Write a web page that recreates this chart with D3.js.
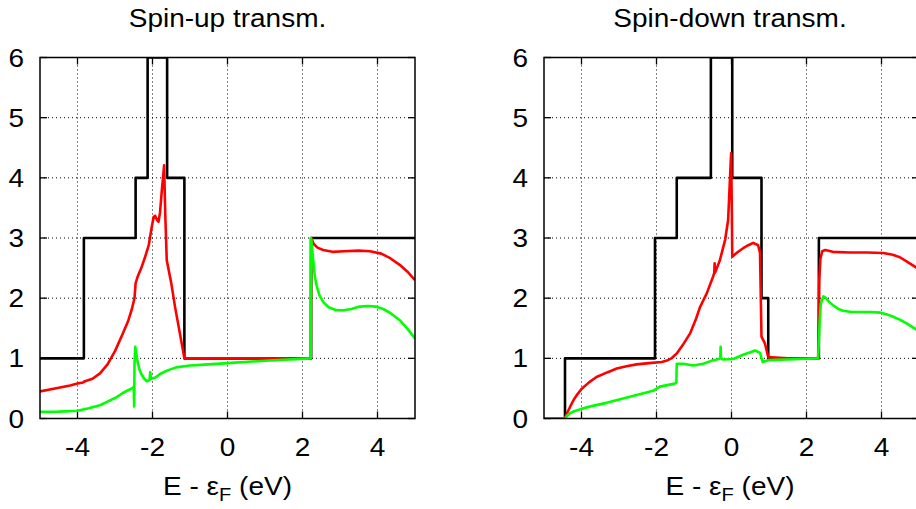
<!DOCTYPE html>
<html><head><meta charset="utf-8">
<script src="https://cdn.jsdelivr.net/npm/d3@7"></script>
<style>body{margin:0;background:#fff}svg{display:block}text{font-family:"Liberation Sans",Arial,sans-serif;fill:#000}</style>
</head><body><svg id="c" width="916" height="509"></svg>
<script>
// ---- data ----
const xTicks = [-4, -2, 0, 2, 4];
const yTicks = [0, 1, 2, 3, 4, 5, 6];
const titles = ["Spin-up transm.", "Spin-down transm."];

// spin-up: channel count (step function) [E, N]
const upSteps = [[-5,1],[-3.83,1],[-3.83,3],[-2.45,3],[-2.45,4],[-2.13,4],[-2.13,6],[-1.61,6],[-1.61,4],[-1.15,4],[-1.15,1],[2.23,1],[2.23,3],[5,3]];
const upRed = [[-5,0.45],[-4.6,0.5],[-4.2,0.55],[-4,0.58],[-3.85,0.6],[-3.8,0.62],[-3.6,0.66],[-3.4,0.75],[-3.2,0.9],[-3.0,1.12],[-2.8,1.4],[-2.65,1.62],[-2.55,1.82],[-2.48,2.0],[-2.45,2.25],[-2.4,2.35],[-2.3,2.5],[-2.2,2.68],[-2.1,2.88],[-2.03,3.15],[-1.97,3.35],[-1.93,3.37],[-1.88,3.3],[-1.84,3.27],[-1.8,3.42],[-1.75,3.8],[-1.69,4.21],[-1.66,3.4],[-1.62,2.63],[-1.5,2.25],[-1.4,1.86],[-1.28,1.45],[-1.15,1.0],[0,1.0],[2.22,1.0],[2.23,3.0],[2.3,2.9],[2.4,2.84],[2.55,2.8],[2.8,2.77],[3.1,2.78],[3.5,2.79],[3.8,2.78],[4.1,2.74],[4.35,2.66],[4.6,2.55],[4.8,2.44],[5,2.3]];
const upGreen = [[-5,0.11],[-4.5,0.115],[-4,0.13],[-3.7,0.17],[-3.4,0.22],[-3.2,0.28],[-3.0,0.34],[-2.8,0.42],[-2.65,0.47],[-2.55,0.5],[-2.5,0.52],[-2.49,0.2],[-2.48,0.9],[-2.46,1.19],[-2.4,0.95],[-2.35,0.82],[-2.3,0.74],[-2.22,0.66],[-2.15,0.62],[-2.08,0.64],[-2.06,0.77],[-2.04,0.66],[-1.92,0.68],[-1.8,0.74],[-1.6,0.8],[-1.37,0.85],[-1.0,0.88],[-0.5,0.9],[0,0.92],[1,0.96],[2.22,1.0],[2.23,3.0],[2.26,2.8],[2.29,2.6],[2.33,2.35],[2.38,2.2],[2.45,2.05],[2.56,1.93],[2.7,1.85],[2.9,1.8],[3.1,1.8],[3.3,1.82],[3.53,1.86],[3.75,1.87],[3.95,1.86],[4.15,1.82],[4.35,1.75],[4.6,1.63],[4.8,1.49],[5,1.33]];

// spin-down
const dnSteps = [[-5,0],[-4.44,0],[-4.44,1],[-2.04,1],[-2.04,3],[-1.46,3],[-1.46,4],[-0.55,4],[-0.55,6],[0.02,6],[0.02,4],[0.8,4],[0.8,2],[0.98,2],[0.98,1],[2.33,1],[2.33,3],[5,3]];
const dnRed = [[-5,0],[-4.44,0],[-4.4,0.07],[-4.3,0.2],[-4.2,0.32],[-4.1,0.41],[-4.0,0.49],[-3.8,0.6],[-3.6,0.69],[-3.3,0.77],[-3.06,0.83],[-2.8,0.87],[-2.53,0.9],[-2.2,0.92],[-1.86,0.94],[-1.7,0.97],[-1.6,1.0],[-1.46,1.08],[-1.3,1.22],[-1.1,1.42],[-0.95,1.65],[-0.84,1.85],[-0.66,2.08],[-0.49,2.36],[-0.46,2.42],[-0.45,2.58],[-0.44,2.42],[-0.31,2.63],[-0.17,2.97],[-0.09,3.3],[-0.04,4.0],[-0.01,4.41],[0.01,3.4],[0.02,2.69],[0.15,2.76],[0.31,2.83],[0.45,2.88],[0.58,2.92],[0.71,2.88],[0.76,2.75],[0.8,1.36],[0.89,1.25],[0.98,1.02],[1.5,1.0],[2.31,1.0],[2.34,2.3],[2.37,2.65],[2.42,2.78],[2.5,2.8],[2.7,2.77],[3.16,2.76],[3.61,2.76],[4.05,2.75],[4.3,2.72],[4.49,2.68],[4.7,2.6],[5,2.48]];
const dnGreen = [[-5,0],[-4.44,0],[-4.39,0.04],[-4.3,0.09],[-4.2,0.12],[-4.0,0.16],[-3.7,0.21],[-3.33,0.26],[-2.71,0.36],[-2.09,0.46],[-1.91,0.53],[-1.51,0.58],[-1.47,0.6],[-1.46,0.91],[-1.29,0.91],[-1.02,0.88],[-0.75,0.91],[-0.49,0.97],[-0.44,0.97],[-0.35,0.99],[-0.3,1.0],[-0.29,1.19],[-0.28,1.0],[-0.22,0.98],[0.05,0.99],[0.31,1.06],[0.5,1.1],[0.63,1.13],[0.76,1.09],[0.83,0.94],[0.98,0.97],[1.83,0.99],[2.31,1.0],[2.35,1.6],[2.38,1.9],[2.45,2.03],[2.52,2.0],[2.6,1.94],[2.71,1.88],[2.85,1.82],[2.98,1.79],[3.2,1.77],[3.43,1.77],[3.7,1.77],[3.96,1.76],[4.15,1.73],[4.31,1.69],[4.5,1.64],[4.67,1.58],[5,1.45]];

const panels = [
  {title: titles[0], steps: upSteps, red: upRed, green: upGreen, x0: 40, x1: 415},
  {title: titles[1], steps: dnSteps, red: dnRed, green: dnGreen, x0: 544, x1: 919}
];

const svg = d3.select("#c");
const yTop = 57.5, yBot = 418.5;
const fs = 25, sx = 1.12;

function txt(parent, x, y, s, anchor) {
  return parent.append("text")
    .attr("transform", `translate(${x},${y}) scale(${sx},1)`)
    .attr("text-anchor", anchor).attr("font-size", fs).text(s);
}

panels.forEach((p, i) => {
  const x = d3.scaleLinear().domain([-5, 5]).range([p.x0, p.x1]);
  const y = d3.scaleLinear().domain([0, 6]).range([yBot, yTop]);
  const g = svg.append("g");
  const cid = "clip" + i;
  svg.append("clipPath").attr("id", cid).append("rect")
    .attr("x", p.x0).attr("y", yTop).attr("width", p.x1 - p.x0).attr("height", yBot - yTop);

  // grid
  const grid = g.append("g").attr("stroke", "#000").attr("stroke-width", 1).attr("stroke-dasharray", "1,3");
  grid.selectAll(".gx").data(xTicks).join("line")
    .attr("x1", d => x(d)).attr("x2", d => x(d)).attr("y1", yTop).attr("y2", yBot);
  grid.selectAll(".gy").data(yTicks.filter(d => d > 0 && d < 6)).join("line")
    .attr("y1", d => y(d)).attr("y2", d => y(d)).attr("x1", p.x0).attr("x2", p.x1);

  // ticks inside, mirrored
  const tk = g.append("g").attr("stroke", "#000").attr("stroke-width", 1.3);
  xTicks.forEach(d => {
    tk.append("line").attr("x1", x(d)).attr("x2", x(d)).attr("y1", yBot).attr("y2", yBot - 7);
    tk.append("line").attr("x1", x(d)).attr("x2", x(d)).attr("y1", yTop).attr("y2", yTop + 7);
  });
  yTicks.forEach(d => {
    tk.append("line").attr("x1", p.x0).attr("x2", p.x0 + 7).attr("y1", y(d)).attr("y2", y(d));
    tk.append("line").attr("x1", p.x1).attr("x2", p.x1 - 7).attr("y1", y(d)).attr("y2", y(d));
  });

  // lines
  const line = d3.line().x(d => x(d[0])).y(d => y(d[1]));
  const lg = g.append("g").attr("clip-path", `url(#${cid})`).attr("fill", "none")
    .attr("stroke-linejoin", "round").attr("stroke-linecap", "butt");
  lg.append("path").datum(p.steps).attr("d", line).attr("stroke", "#000").attr("stroke-width", 2.6);
  lg.append("path").datum(p.red).attr("d", line).attr("stroke", "#ff0000").attr("stroke-width", 2.6);
  lg.append("path").datum(p.green).attr("d", line).attr("stroke", "#00ff00").attr("stroke-width", 2.6);

  // frame
  g.append("rect").attr("x", p.x0).attr("y", yTop).attr("width", p.x1 - p.x0).attr("height", yBot - yTop)
    .attr("fill", "none").attr("stroke", "#000").attr("stroke-width", 1.5);

  // tick labels
  yTicks.forEach(d => txt(g, p.x0 - 16, y(d) + 9, d, "end"));
  xTicks.forEach(d => txt(g, x(d), 456, d, "middle"));

  // title
  const cx = (p.x0 + p.x1) / 2 - (i === 1 ? 1.5 : 0);
  txt(g, cx, 27, p.title, "middle");

  // x label
  const xl = txt(g, cx, 495, "", "middle");
  xl.append("tspan").text("E - ε");
  xl.append("tspan").attr("font-size", 18).attr("dy", 6).text("F");
  xl.append("tspan").attr("dy", -6).text(" (eV)");
});
</script></body></html>
